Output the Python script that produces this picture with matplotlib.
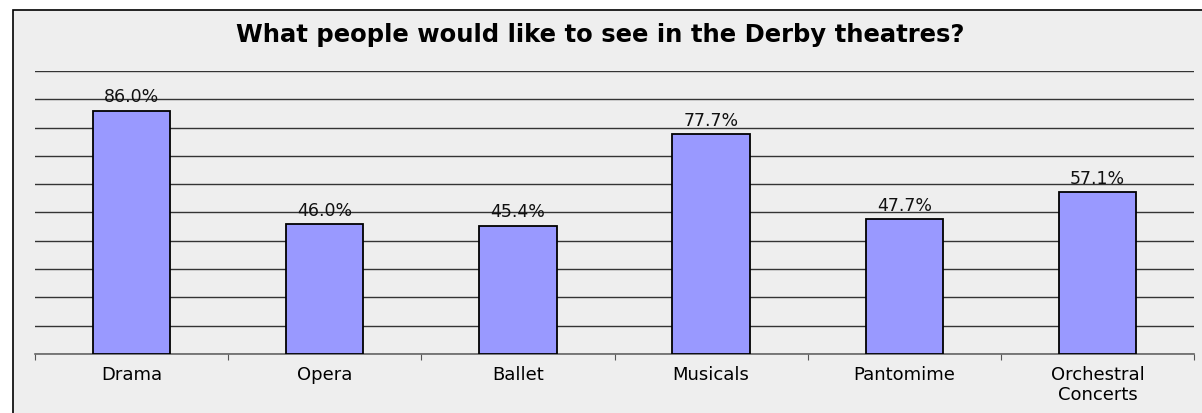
import matplotlib
matplotlib.use("Agg")
import matplotlib.pyplot as plt
from matplotlib.patches import Rectangle

categories = ["Drama", "Opera", "Ballet", "Musicals", "Pantomime", "Orchestral\nConcerts"]
values = [86.0, 46.0, 45.4, 77.7, 47.7, 57.1]
title = "What people would like to see in the Derby theatres?"

W, H = 1202, 413
fig = plt.figure(figsize=(W / 100, H / 100), dpi=100)
fig.patch.set_facecolor("white")

# grey chart area with a black border (right and bottom run off the image)
fig.patches.append(Rectangle((13 / W, -0.2), 1.2, 1.2 - 10 / H,
                             transform=fig.transFigure, facecolor="#EEEEEE",
                             edgecolor="black", linewidth=1.2, zorder=-1))

ax = fig.add_axes([35 / W, 1 - 354 / H, (1194 - 35) / W, (354 - 71) / H])
ax.set_zorder(2)
ax.set_facecolor("none")

x = list(range(len(categories)))
bars = ax.bar(x, values, width=0.4, color="#9999FF", edgecolor="black",
              linewidth=1.3, zorder=3)

for b, v in zip(bars, values):
    ax.annotate(f"{v:.1f}%", (b.get_x() + b.get_width() / 2, v),
                xytext=(0, 3), textcoords="offset points", ha="center", va="bottom",
                fontsize=12.5, family="DejaVu Sans", color="#111111")

ax.set_xlim(-0.5, len(categories) - 0.5)
ax.set_ylim(0, 100)
ax.set_yticks(range(0, 101, 10))
ax.yaxis.grid(True, color="#333333", linewidth=1.0)
ax.set_axisbelow(True)
ax.tick_params(axis="y", left=False, labelleft=False)

# ticks between categories, labels centred under bars
ax.set_xticks([i - 0.5 for i in range(len(categories) + 1)])
ax.set_xticklabels([])
ax.set_xticks(x, minor=True)
ax.set_xticklabels(categories, minor=True, fontsize=13, family="DejaVu Sans",
                   linespacing=1.1)
ax.tick_params(axis="x", which="major", direction="out", length=4, color="#555555")
ax.tick_params(axis="x", which="minor", length=0, pad=9)

for s in ["left", "right", "top"]:
    ax.spines[s].set_visible(False)
ax.spines["bottom"].set_color("#666666")
ax.spines["bottom"].set_linewidth(1.2)

fig.text(600 / W, 1 - 35 / H, title, ha="center", va="center",
         fontsize=17.5, fontweight="bold", family="DejaVu Sans", zorder=3)

fig.savefig("out.png", dpi=100)
